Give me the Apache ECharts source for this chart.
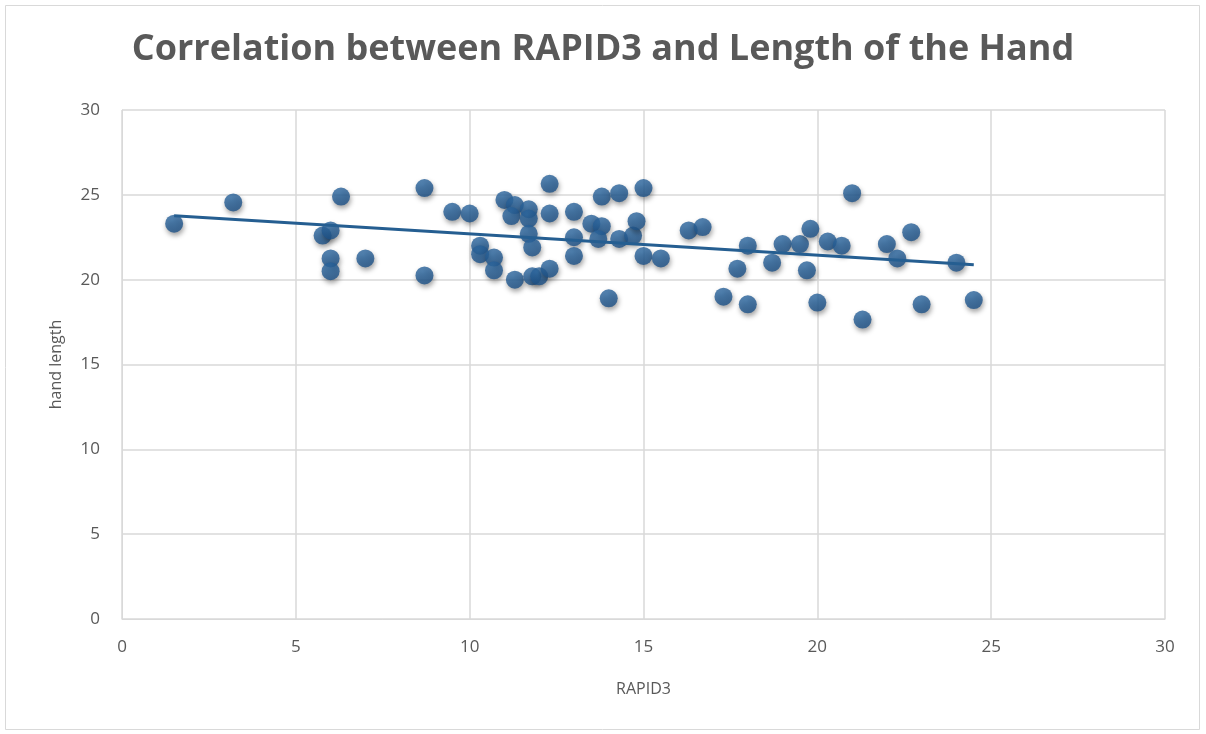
<!DOCTYPE html>
<html>
<head>
<meta charset="utf-8">
<script src="https://cdn.jsdelivr.net/npm/echarts@6/dist/echarts.min.js"></script>
<style>
  html, body { margin: 0; padding: 0; background: #fff; }
  #chart { width: 1206px; height: 734px; }
</style>
</head>
<body>
<div id="chart"></div>
<script>
// RAPID3 score (x) and hand length (y)
const rapid3 = [
  1.5, 3.2, 5.77, 6.0, 6.0, 6.0, 6.3, 7.0, 8.7, 8.7,
  9.5, 10.0, 10.3, 10.3, 10.7, 10.7, 11.0, 11.3, 11.2, 11.3,
  11.7, 11.7, 11.7, 11.8, 11.8, 12.0, 12.3, 12.3, 12.3, 13.0,
  13.0, 13.0, 13.5, 13.8, 13.8, 13.7, 14.0, 14.3, 14.3, 14.7,
  14.8, 15.0, 15.0, 15.5, 16.3, 16.7, 17.3, 17.7, 18.0, 18.0,
  18.7, 19.0, 19.5, 19.8, 19.7, 20.0, 20.3, 20.7, 21.0, 21.3,
  22.0, 22.3, 22.7, 23.0, 24.0, 24.5
]
const handLength = [
  23.3, 24.55, 22.6, 22.9, 21.25, 20.5, 24.9, 21.25, 25.4, 20.25,
  24.0, 23.9, 22.0, 21.5, 21.3, 20.55, 24.7, 24.4, 23.75, 20.0,
  24.15, 23.6, 22.7, 21.9, 20.2, 20.2, 25.65, 23.9, 20.65, 24.0,
  22.5, 21.4, 23.3, 24.9, 23.15, 22.4, 18.9, 25.1, 22.4, 22.6,
  23.45, 25.4, 21.4, 21.25, 22.9, 23.1, 19.0, 20.65, 22.0, 18.55,
  21.0, 22.1, 22.1, 23.0, 20.55, 18.65, 22.25, 22.0, 25.1, 17.65,
  22.1, 21.25, 22.8, 18.55, 21.0, 18.8
]

// linear trendline end points (as drawn in the picture)
const trendX = [1.5, 24.5]
const trendY = [23.77, 20.88]

const xTicks = [0, 30, 5] // min, max, step
const yTicks = [0, 30, 5]

const points = rapid3.map((x, i) => [x, handLength[i]])
const trend = trendX.map((x, i) => [x, trendY[i]])

const textColor = '#595959'
const gridColor = '#d9d9d9'
const markColor = '#255e91'

const chart = echarts.init(document.getElementById('chart'))
chart.setOption({
  backgroundColor: '#fff',
  animation: false,
  title: {
    text: 'Correlation between RAPID3 and Length of the Hand',
    left: 'center',
    top: 27,
    textStyle: {
      fontFamily: 'Open Sans',
      fontWeight: 'bold',
      fontSize: 36,
      color: textColor
    }
  },
  graphic: [
    {
      // outer chart border
      type: 'rect',
      shape: { x: 5.5, y: 5.5, width: 1194, height: 724 },
      style: { fill: 'none', stroke: gridColor, lineWidth: 1 },
      silent: true
    }
  ],
  grid: {
    left: 122,
    right: 41,
    top: 110,
    bottom: 115
  },
  xAxis: {
    type: 'value',
    min: xTicks[0],
    max: xTicks[1],
    interval: xTicks[2],
    name: 'RAPID3',
    nameLocation: 'middle',
    nameGap: 62,
    nameTextStyle: { fontFamily: 'Open Sans', fontSize: 16, color: textColor },
    axisLine: { show: true, lineStyle: { color: gridColor, width: 1 } },
    axisTick: { show: false },
    axisLabel: { fontFamily: 'Open Sans', fontSize: 17, color: textColor, margin: 20 },
    splitLine: { show: true, lineStyle: { color: gridColor, width: 1.5 } }
  },
  yAxis: {
    type: 'value',
    min: yTicks[0],
    max: yTicks[1],
    interval: yTicks[2],
    name: 'hand length',
    nameLocation: 'middle',
    nameGap: 58,
    nameTextStyle: { fontFamily: 'Open Sans', fontSize: 16, color: textColor },
    axisLine: { show: true, lineStyle: { color: gridColor, width: 1 } },
    axisTick: { show: false },
    axisLabel: { fontFamily: 'Open Sans', fontSize: 17, color: textColor, margin: 22 },
    splitLine: { show: true, lineStyle: { color: gridColor, width: 1.5 } }
  },
  series: [
    {
      type: 'scatter',
      data: points,
      symbolSize: 18,
      itemStyle: {
        color: new echarts.graphic.RadialGradient(0.4, 0.3, 0.75, [
          { offset: 0, color: '#2f6ba4' },
          { offset: 1, color: '#1b4f85' }
        ]),
        shadowColor: 'rgba(0, 0, 0, 0.45)',
        shadowBlur: 5,
        shadowOffsetX: 1,
        shadowOffsetY: 3
      },
      z: 3
    },
    {
      type: 'line',
      data: trend,
      symbol: 'none',
      lineStyle: { color: markColor, width: 3 },
      z: 4
    }
  ]
})
</script>
</body>
</html>
